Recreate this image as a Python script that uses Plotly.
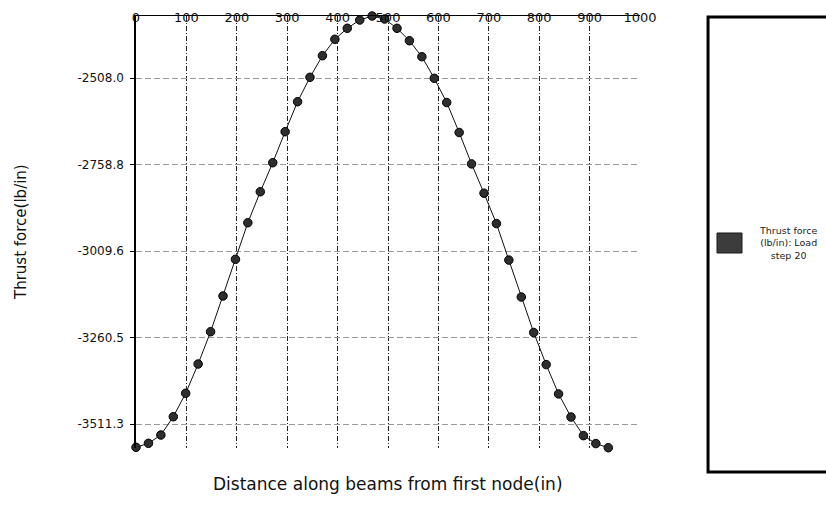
import plotly.graph_objects as go

# Beam station positions (in) and thrust force (lb/in) at load step 20
distance_in = [0.0, 24.7, 49.3, 74.0, 98.6, 123.3, 148.0, 172.6, 197.3, 221.9,
               246.6, 271.3, 295.9, 320.6, 345.2, 369.9, 394.6, 419.2, 443.9, 468.5,
               493.2, 517.9, 542.5, 567.2, 591.8, 616.5, 641.2, 665.8, 690.5, 715.1,
               739.8, 764.5, 789.1, 813.8, 838.4, 863.1, 887.8, 912.4, 937.1]
thrust_lb_in = [-3578.8, -3567.2, -3543.1, -3490.1, -3422.2, -3337.3, -3243.6, -3140.1,
                -3033.7, -2927.6, -2837.7, -2753.6, -2663.7, -2576.7, -2506.0, -2443.3,
                -2395.8, -2363.9, -2339.8, -2328.2, -2336.9, -2363.9, -2399.9, -2446.2,
                -2508.9, -2579.0, -2666.0, -2757.0, -2842.0, -2930.0, -3036.0, -3143.0,
                -3246.0, -3339.0, -3424.0, -3491.0, -3545.0, -3568.0, -3580.0]

x_ticks = [0, 100, 200, 300, 400, 500, 600, 700, 800, 900, 1000]
y_ticks = [-2508.0, -2758.8, -3009.6, -3260.5, -3511.3]
y_tick_text = [f"{v:.1f}" for v in y_ticks]

series_lines = ["Thrust force", "(lb/in): Load", "step 20"]
series_name = " ".join(series_lines)
x_title = "Distance along beams from first node(in)"
y_title = "Thrust force(lb/in)"

FONT = "DejaVu Sans"

fig = go.Figure()
fig.add_trace(go.Scatter(
    x=distance_in, y=thrust_lb_in, name=series_name,
    mode="lines+markers",
    line=dict(color="#111111", width=1),
    marker=dict(symbol="circle", size=8.5, color="#2e2e2e",
                line=dict(color="#000000", width=1)),
    cliponaxis=False, showlegend=False,
))

fig.update_layout(
    width=826, height=516,
    margin=dict(l=136, r=186, t=16, b=68),
    paper_bgcolor="white", plot_bgcolor="white",
    font=dict(family=FONT, color="#111111"),
    showlegend=False,
    xaxis=dict(
        side="top", range=[0, 1000], tickvals=x_ticks,
        showline=True, linecolor="#000000", linewidth=1,
        showgrid=True, gridcolor="#222222", gridwidth=1, griddash="5px,2px,1px,2px",
        zeroline=False, ticks="", ticklabelstandoff=-12,
        tickfont=dict(size=13, family=FONT, color="#111111"),
        automargin=False,
    ),
    yaxis=dict(
        range=[-3580.8, -2328.2], tickvals=y_ticks, ticktext=y_tick_text,
        showline=True, linecolor="#000000", linewidth=1.5,
        showgrid=True, gridcolor="#9a9a9a", gridwidth=1, griddash="6px,3px",
        zeroline=False, ticks="outside", ticklen=4, tickcolor="#000000",
        ticklabelstandoff=4,
        tickfont=dict(size=12, family=FONT, color="#111111"),
        automargin=False,
    ),
    shapes=[
        # legend frame
        dict(type="rect", xref="paper", yref="paper",
             x0=1.135, x1=1.40, y0=-0.0556, y1=0.9977,
             line=dict(color="#000000", width=3), fillcolor="rgba(0,0,0,0)"),
        # legend swatch
        dict(type="rect", xref="paper", yref="paper",
             x0=1.1528, x1=1.2024, y0=0.4514, y1=0.4977,
             line=dict(color="#1a1a1a", width=1), fillcolor="#3c3c3c"),
    ],
    annotations=[
        dict(text="<br>".join(series_lines), xref="paper", yref="paper",
             x=1.2956, y=0.4745, xanchor="center", yanchor="middle",
             showarrow=False, align="center",
             font=dict(size=9.5, family=FONT, color="#222222")),
        dict(text=x_title, xref="paper", yref="paper",
             x=0.5, y=-0.0833, xanchor="center", yanchor="middle",
             showarrow=False, font=dict(size=17, family=FONT, color="#111111")),
        dict(text=y_title, xref="paper", yref="paper",
             x=-0.2282, y=0.5, xanchor="center", yanchor="middle", textangle=-90,
             showarrow=False, font=dict(size=15, family=FONT, color="#111111")),
    ],
)

fig.write_html("out.html")
